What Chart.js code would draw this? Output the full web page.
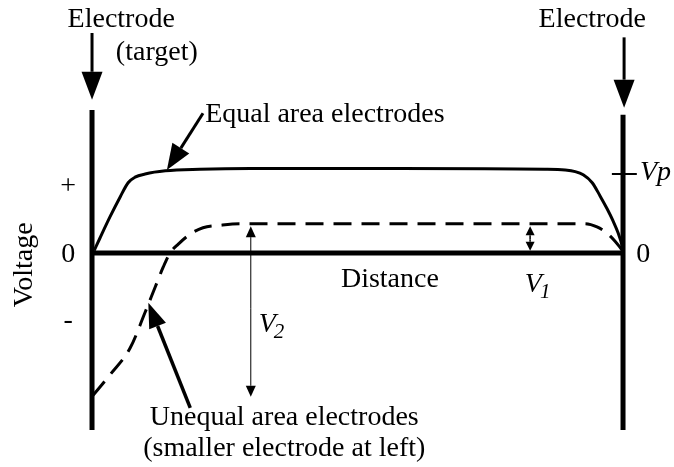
<!DOCTYPE html>
<html>
<head>
<meta charset="utf-8">
<script src="https://cdn.jsdelivr.net/npm/chart.js@4.4.1/dist/chart.umd.min.js"></script>
<style>
  html, body { margin: 0; padding: 0; background: #fff; }
  #wrap { width: 674px; height: 467px; }
</style>
</head>
<body>
<div id="wrap"><canvas id="plasmaChart" width="674" height="467"></canvas></div>
<script>
// Distance runs 0 (left electrode) .. 100 (right electrode), voltage in arbitrary units (Vp = 10)
const solidX = [0.4, 1.5, 3.4, 5.3, 6.8, 8.1, 10, 13.8, 20.3, 29.8, 58, 85.3, 89.1, 91.0, 92.5, 94.2, 95.7, 97.0, 98.1, 99.1, 99.8, 100];
const solidY = [0.3, 1.9, 4.6, 7.1, 8.9, 9.6, 10.0, 10.4, 10.6, 10.7, 10.7, 10.6, 10.5, 10.3, 9.9, 8.9, 7.2, 5.6, 4.1, 2.5, 1.0, 0.3];

const dashedX = [0.2, 3.4, 7.2, 10.0, 11.9, 13.4, 14.7, 16.2, 18.5, 20.9, 24.1, 27.9, 92.8, 95.1, 97.0, 98.5, 99.8];
const dashedY = [-18.0, -15.4, -12.0, -7.5, -4.3, -1.8, 0, 1.1, 2.4, 3.2, 3.5, 3.7, 3.7, 3.3, 2.5, 1.5, 0.4];

const electrodeX = [0, 100];
const electrodeTop = [18.1, 17.5];
const electrodeBottom = [-22.4, -22.4];
const vp = 10;
const v1Top = 3.4;
const v2Top = 3.4, v2Bottom = -18.2;

const xMin = -17.33, xMax = 109.6;
const yMin = -27.09, yMax = 32.03;

function toPts(xs, ys) {
    return xs.map((x, i) => ({ x: x, y: ys[i] }));
}

const datasets = [
    { data: toPts(solidX, solidY), borderColor: '#000', borderWidth: 3, cubicInterpolationMode: 'monotone' },
    { data: toPts(dashedX, dashedY), borderColor: '#000', borderWidth: 3, borderDash: [18, 10], cubicInterpolationMode: 'monotone' },
    // zero line (distance axis)
    { data: [{ x: 0, y: 0 }, { x: 100, y: 0 }], borderColor: '#000', borderWidth: 5 },
    // electrodes
    { data: [{ x: electrodeX[0], y: electrodeTop[0] }, { x: electrodeX[0], y: electrodeBottom[0] }], borderColor: '#000', borderWidth: 5 },
    { data: [{ x: electrodeX[1], y: electrodeTop[1] }, { x: electrodeX[1], y: electrodeBottom[1] }], borderColor: '#000', borderWidth: 5 },
    // Vp tick
    { data: [{ x: 97.9, y: vp }, { x: 102.6, y: vp }], borderColor: '#000', borderWidth: 2 }
].map(d => Object.assign({ showLine: true, pointRadius: 0, fill: false, borderCapStyle: 'butt' }, d));

const SERIF = '"Liberation Serif", "Times New Roman", serif';

function arrow(ctx, x1, y1, x2, y2, lw, len, half) {
    const a = Math.atan2(y2 - y1, x2 - x1);
    const bx = x2 - len * Math.cos(a), by = y2 - len * Math.sin(a);
    ctx.lineWidth = lw;
    ctx.beginPath();
    ctx.moveTo(x1, y1);
    ctx.lineTo(bx, by);
    ctx.stroke();
    ctx.beginPath();
    ctx.moveTo(x2, y2);
    ctx.lineTo(bx + half * Math.sin(a), by - half * Math.cos(a));
    ctx.lineTo(bx - half * Math.sin(a), by + half * Math.cos(a));
    ctx.closePath();
    ctx.fill();
}

function text(ctx, s, x, y, opt) {
    opt = opt || {};
    const size = opt.size || 28;
    ctx.save();
    ctx.translate(x, y);
    if (opt.rotate) ctx.rotate(opt.rotate);
    ctx.font = (opt.italic ? 'italic ' : '') + size + 'px ' + SERIF;
    ctx.textAlign = opt.align || 'center';
    ctx.textBaseline = 'middle';
    ctx.fillText(s, 0, 0);
    ctx.restore();
}

function subLabel(ctx, main, sub, x, y) {
    ctx.save();
    ctx.translate(x, y);
    ctx.font = 'italic 28px ' + SERIF;
    ctx.textBaseline = 'middle';
    ctx.textAlign = 'left';
    const w = ctx.measureText(main).width;
    ctx.fillText(main, 0, 0);
    ctx.font = 'italic 21px ' + SERIF;
    ctx.fillText(sub, w - 2, 8);
    ctx.restore();
}

const annotations = {
    id: 'annotations',
    afterDatasetsDraw(chart) {
        const ctx = chart.ctx;
        const sx = chart.scales.x, sy = chart.scales.y;
        const X = v => sx.getPixelForValue(v), Y = v => sy.getPixelForValue(v);
        ctx.save();
        ctx.fillStyle = '#000';
        ctx.strokeStyle = '#000';

        // electrode arrows
        arrow(ctx, X(electrodeX[0]), Y(27.85), X(electrodeX[0]), Y(19.4), 3, 28, 10.5);
        arrow(ctx, X(100.2), Y(27.3), X(100.2), Y(18.4), 3, 28, 10.5);

        // pointer arrows to the curves
        arrow(ctx, X(20.9), Y(17.7), X(14.1), Y(10.5), 3, 26, 10);
        arrow(ctx, X(18.5), Y(-19.6), X(10.6), Y(-6.3), 3.5, 25, 9);

        // V1 double arrow
        const v1x = X(82.5);
        arrow(ctx, v1x, Y(1.7), v1x, Y(v1Top), 1.5, 9, 4.5);
        arrow(ctx, v1x, Y(1.7), v1x, Y(0.3), 1.5, 9, 4.5);

        // V2 double arrow
        const v2x = X(29.9);
        arrow(ctx, v2x, Y(-7), v2x, Y(v2Top), 1, 11, 5);
        arrow(ctx, v2x, Y(-7), v2x, Y(v2Bottom), 1, 11, 5);

        // texts
        text(ctx, 'Electrode', X(5.5), Y(29.5));
        text(ctx, '(target)', X(12.2), Y(25.4));
        text(ctx, 'Electrode', X(94.2), Y(29.5));
        text(ctx, 'Equal area electrodes', X(21.3), Y(17.5), { align: 'left' });
        text(ctx, 'Distance', X(56.1), Y(-3.4));
        subLabel(ctx, 'V', '1', X(81.5), Y(-4.0));
        subLabel(ctx, 'V', '2', X(31.4), Y(-9.1));
        text(ctx, 'Vp', X(103.2), Y(10.2), { align: 'left', italic: true });
        text(ctx, '0', X(103.8), Y(-0.25));
        text(ctx, '0', X(-4.5), Y(-0.25));
        text(ctx, '+', X(-4.5), Y(8.4));
        text(ctx, '-', X(-4.5), Y(-8.6));
        text(ctx, 'Voltage', X(-12.6), Y(-1.5), { rotate: -Math.PI / 2 });
        text(ctx, 'Unequal area electrodes', X(36.2), Y(-20.8));
        text(ctx, '(smaller electrode at left)', X(36.2), Y(-24.8));
        ctx.restore();
    }
};

new Chart(document.getElementById('plasmaChart').getContext('2d'), {
    type: 'scatter',
    data: { datasets: datasets },
    options: {
        responsive: false,
        animation: false,
        devicePixelRatio: 1,
        layout: { padding: 0 },
        scales: {
            x: { type: 'linear', min: xMin, max: xMax, display: false },
            y: { type: 'linear', min: yMin, max: yMax, display: false }
        },
        plugins: {
            legend: { display: false },
            tooltip: { enabled: false }
        }
    },
    plugins: [annotations]
});
</script>
</body>
</html>
